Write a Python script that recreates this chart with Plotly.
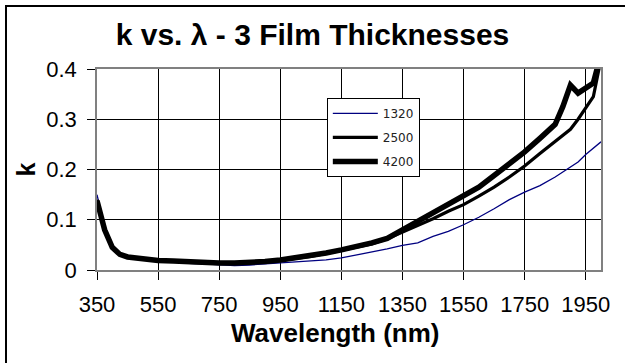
import plotly.graph_objects as go

wavelength = [350, 375, 400, 425, 450, 500, 550, 600, 650, 700, 750, 800, 850, 900,
              950, 1000, 1050, 1100, 1150, 1200, 1250, 1300, 1350, 1400, 1450, 1500,
              1550, 1600, 1650, 1700, 1750, 1800, 1850, 1875, 1900, 1925, 1950, 1975, 2000]

k_1320 = [0.150, 0.085, 0.048, 0.033, 0.027, 0.022, 0.018, 0.016, 0.013, 0.012, 0.010,
          0.009, 0.010, 0.012, 0.013, 0.015, 0.017, 0.020, 0.024, 0.030, 0.035, 0.042,
          0.049, 0.054, 0.067, 0.077, 0.090, 0.105, 0.122, 0.140, 0.155, 0.168, 0.185,
          0.195, 0.205, 0.215, 0.230, 0.243, 0.255]

k_2500 = [0.140, 0.082, 0.046, 0.032, 0.027, 0.022, 0.019, 0.018, 0.015, 0.014, 0.014,
          0.014, 0.015, 0.017, 0.019, 0.023, 0.027, 0.033, 0.039, 0.045, 0.052, 0.062,
          0.075, 0.088, 0.102, 0.117, 0.130, 0.147, 0.165, 0.185, 0.207, 0.232, 0.255,
          0.267, 0.280, 0.300, 0.322, 0.345, 0.420]

k_4200 = [0.138, 0.080, 0.045, 0.031, 0.026, 0.022, 0.019, 0.018, 0.016, 0.014, 0.014,
          0.014, 0.015, 0.017, 0.020, 0.024, 0.028, 0.034, 0.040, 0.046, 0.054, 0.063,
          0.080, 0.095, 0.113, 0.128, 0.145, 0.165, 0.188, 0.210, 0.235, 0.262, 0.290,
          0.325, 0.368, 0.352, 0.362, 0.372, 0.430]

series_names = ["1320", "2500", "4200"]
x_tick_vals = [350, 550, 750, 950, 1150, 1350, 1550, 1750, 1950]
y_tick_vals = [0, 0.1, 0.2, 0.3, 0.4]

series = [k_1320, k_2500, k_4200]
colors = ["#000080", "#000000", "#000000"]
widths = [1.3, 3.2, 5.5]

fig = go.Figure()
for name, ys, c, w in zip(series_names, series, colors, widths):
    fig.add_trace(go.Scatter(x=wavelength, y=ys, mode="lines", name=name,
                             legendgroup=name,
                             line=dict(color=c, width=w)))

fig.update_layout(
    width=625, height=363,
    margin=dict(l=97, r=24, t=69, b=93, autoexpand=False),
    paper_bgcolor="white", plot_bgcolor="white",
    font=dict(family="Liberation Sans, Arial, sans-serif", color="black"),
    title=dict(text="<b>k vs. λ - 3 Film Thicknesses</b>", x=0.5, xref="container",
               y=1 - 34 / 363, yref="container", xanchor="center", yanchor="middle",
               font=dict(size=30, color="black")),
    showlegend=True,
    legend=dict(x=0.456, y=0.856, xanchor="left", yanchor="top",
                bgcolor="white", bordercolor="black", borderwidth=1,
                font=dict(family="DejaVu Sans", size=12, color="#222"),
                tracegroupgap=5, traceorder="grouped", itemwidth=45),
    annotations=[dict(text="<b>Wavelength (nm)</b>", xref="paper", yref="paper",
                      x=(335 - 97) / 504, y=-(333 - 270) / 201,
                      xanchor="center", yanchor="middle", showarrow=False,
                      font=dict(size=26, color="black"))],
)

fig.update_xaxes(
    range=[350, 2000], tickvals=x_tick_vals, automargin=False,
    ticks="outside", ticklen=8, tickcolor="black", tickwidth=1,
    showgrid=True, gridcolor="black", gridwidth=1,
    showline=True, linecolor="#808080", linewidth=1.5, mirror=True,
    tickfont=dict(size=22), ticklabelstandoff=6,
    zeroline=False,
)
fig.update_yaxes(
    range=[0, 0.4], tickvals=y_tick_vals, ticktext=["0", "0.1", "0.2", "0.3", "0.4"],
    automargin=False,
    ticks="outside", ticklen=8, tickcolor="black", tickwidth=1,
    showgrid=True, gridcolor="black", gridwidth=1,
    showline=True, linecolor="#808080", linewidth=1.5, mirror=True,
    tickfont=dict(size=22), ticklabelstandoff=6,
    title=dict(text="<b>k</b>", font=dict(size=25), standoff=4),
    zeroline=False,
)

# outer chart border (top and left visible in the cropped reference)
fig.add_shape(type="rect", xref="paper", yref="paper",
              x0=-91 / 504, x1=1.2, y0=-0.7, y1=264 / 201,
              line=dict(color="black", width=2), fillcolor="rgba(0,0,0,0)", layer="below")

fig.write_html("out.html", config={"displayModeBar": False},
               post_script="document.body.style.margin='0';document.body.style.padding='0';")
